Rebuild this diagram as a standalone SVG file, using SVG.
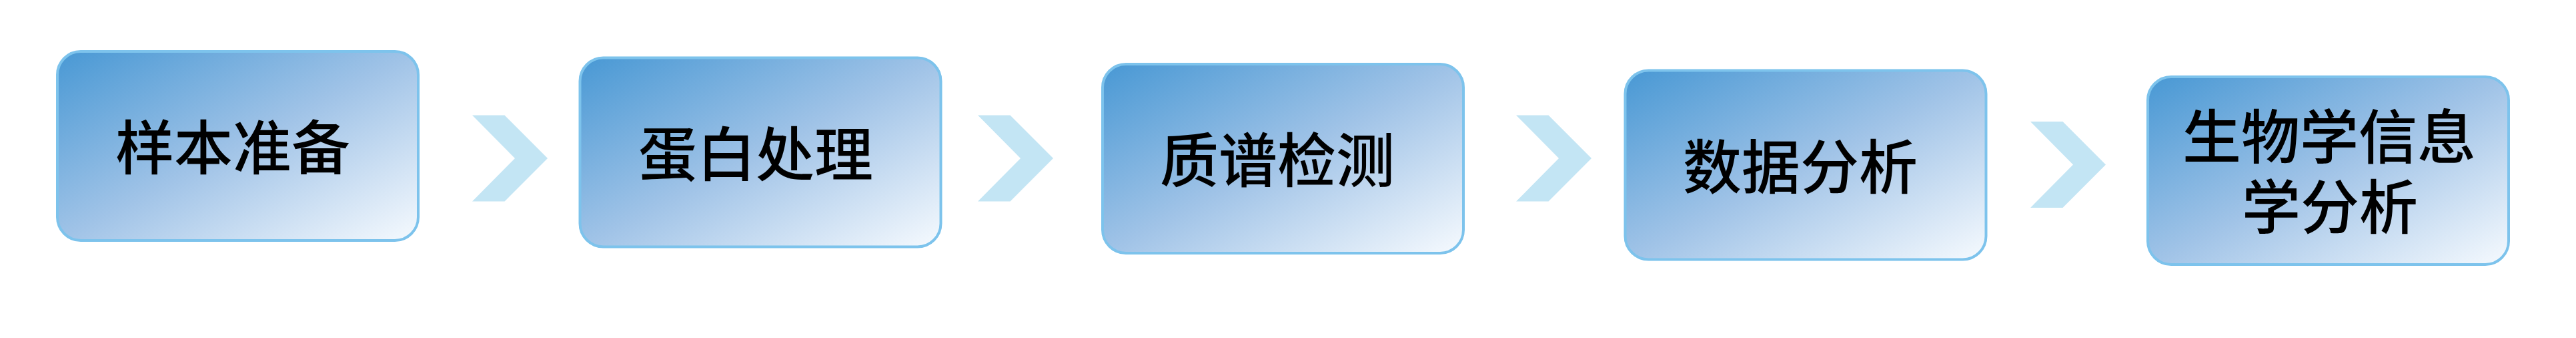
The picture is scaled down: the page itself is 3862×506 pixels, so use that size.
<svg xmlns="http://www.w3.org/2000/svg" xmlns:xlink="http://www.w3.org/1999/xlink" width="3862" height="506" viewBox="0 0 3862 506">
  <defs>
    <linearGradient id="boxGrad" x1="0" y1="0" x2="1" y2="1">
      <stop offset="0" stop-color="#4898D4"/>
      <stop offset="0.5" stop-color="#A0C3E7"/>
      <stop offset="1" stop-color="#F6FAFE"/>
    </linearGradient>
    <path id="chev" d="M0,0 L48.5,0 L113,64.5 L48.5,129 L0,129 L64,64.5 Z"/>
  </defs>
  <style>
    .box { fill: url(#boxGrad); stroke: #7DC3EC; stroke-width: 4; }
    .lbl { font-family: "Noto Sans CJK SC", "Noto Sans", sans-serif; font-size: 88px; font-weight: 500; fill: #000000; text-anchor: middle; }
    .chev { fill: #C3E5F4; }
  </style>
  <rect width="3862" height="506" fill="#FFFFFF"/>
  <g id="connectors">
    <use xlink:href="#chev" href="#chev" class="chev" transform="translate(708,172.5)"/>
    <use xlink:href="#chev" href="#chev" class="chev" transform="translate(1466,172.5)"/>
    <use xlink:href="#chev" href="#chev" class="chev" transform="translate(2273,172.5)"/>
    <use xlink:href="#chev" href="#chev" class="chev" transform="translate(3044,182)"/>
  </g>
  <g id="node1">
    <rect class="box" x="86" y="77" width="541" height="283" rx="35" ry="35"/>
    <text class="lbl" x="349" y="253">样本准备</text>
  </g>
  <g id="node2">
    <rect class="box" x="869.5" y="86.5" width="541" height="283" rx="35" ry="35"/>
    <text class="lbl" x="1133" y="262.5">蛋白处理</text>
  </g>
  <g id="node3">
    <rect class="box" x="1653" y="96" width="541" height="283" rx="35" ry="35"/>
    <text class="lbl" x="1915" y="272">质谱检测</text>
  </g>
  <g id="node4">
    <rect class="box" x="2436.5" y="105.5" width="541" height="283" rx="35" ry="35"/>
    <text class="lbl" x="2699" y="281.5">数据分析</text>
  </g>
  <g id="node5">
    <rect class="box" x="3220" y="115" width="541" height="281" rx="35" ry="35"/>
    <text class="lbl"><tspan x="3492" y="237">生物学信息</tspan><tspan x="3493" y="342">学分析</tspan></text>
  </g>
</svg>
